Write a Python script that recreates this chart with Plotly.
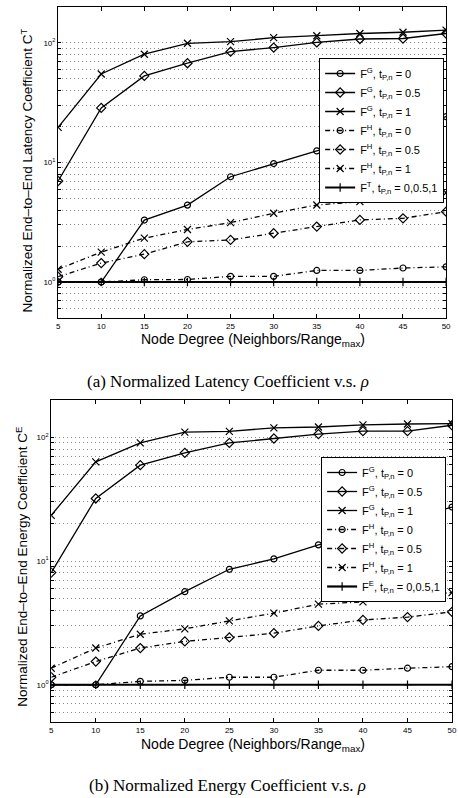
import plotly.graph_objects as go

# Node degree (neighbors per maximum range)
node_degree = [5, 10, 15, 20, 25, 30, 35, 40, 45, 50]

# (a) Normalized end-to-end latency coefficient C^T
lat_fg_t0 = [1.0, 1.0, 3.3, 4.4, 7.6, 9.8, 12.5, 15.5, 19.0, 24.2]
lat_fg_t05 = [7.0, 28.6, 53.0, 67.7, 84.5, 91.6, 101.0, 108.0, 109.0, 120.0]
lat_fg_t1 = [19.7, 55.0, 80.5, 99.4, 102.6, 110.8, 115.0, 120.0, 123.0, 128.0]
lat_fh_t0 = [1.0, 1.0, 1.045, 1.05, 1.115, 1.115, 1.25, 1.25, 1.31, 1.34]
lat_fh_t05 = [1.107, 1.44, 1.71, 2.17, 2.25, 2.56, 2.91, 3.31, 3.41, 3.88]
lat_fh_t1 = [1.28, 1.78, 2.33, 2.75, 3.14, 3.76, 4.41, 4.70, 5.35, 5.59]
lat_ft = [1.0] * 10

# (b) Normalized end-to-end energy coefficient C^E
en_fg_t0 = [1.0, 1.0, 3.6, 5.65, 8.57, 10.4, 13.5, 17.0, 21.5, 27.3]
en_fg_t05 = [8.06, 32.0, 59.5, 74.8, 90.0, 97.7, 106.0, 112.0, 112.0, 125.0]
en_fg_t1 = [23.4, 63.3, 90.0, 110.0, 111.7, 119.0, 121.0, 126.0, 128.0, 129.0]
en_fh_t0 = [1.0, 1.0, 1.065, 1.085, 1.15, 1.15, 1.31, 1.31, 1.36, 1.40]
en_fh_t05 = [1.15, 1.54, 1.98, 2.24, 2.41, 2.61, 2.99, 3.34, 3.52, 3.88]
en_fh_t1 = [1.36, 1.98, 2.56, 2.83, 3.28, 3.79, 4.48, 4.67, 5.22, 5.56]
en_fe = [1.0] * 10

x_ticks = [5, 10, 15, 20, 25, 30, 35, 40, 45, 50]
y_decades = [1, 10, 100]
y_decade_labels = ["10<sup>0</sup>", "10<sup>1</sup>", "10<sup>2</sup>"]

W, H = 458, 798
SANS = "Liberation Sans, Arial, Helvetica, sans-serif"
SERIF = "Liberation Serif, Times New Roman, serif"
DASHDOT = "5px,3px,1px,3px"

fig = go.Figure()


def add_series(ys, name, symbol, dash, xa, ya, legend, width=1.3, msize=6):
    fig.add_trace(go.Scatter(
        x=node_degree, y=ys, name=name, mode="lines+markers",
        line=dict(color="black", width=width, dash=dash),
        marker=dict(symbol=symbol, size=msize, color="black",
                    line=dict(color="black", width=1.2)),
        xaxis=xa, yaxis=ya, legend=legend,
    ))


def legend_name(sup, val):
    return f"F<sup>{sup}</sup>, t<sub>P,n</sub> = {val}"


panels = [
    ("x", "y", "legend",
     [lat_fg_t0, lat_fg_t05, lat_fg_t1, lat_fh_t0, lat_fh_t05, lat_fh_t1, lat_ft], "T"),
    ("x2", "y2", "legend2",
     [en_fg_t0, en_fg_t05, en_fg_t1, en_fh_t0, en_fh_t05, en_fh_t1, en_fe], "E"),
]

for xa, ya, leg, series, last_sup in panels:
    g0, g05, g1, h0, h05, h1, base = series
    add_series(g0, legend_name("G", "0"), "circle-open", "solid", xa, ya, leg)
    add_series(g05, legend_name("G", "0.5"), "diamond-open", "solid", xa, ya, leg, msize=7)
    add_series(g1, legend_name("G", "1"), "x-thin-open", "solid", xa, ya, leg, msize=7)
    add_series(h0, legend_name("H", "0"), "circle-open", DASHDOT, xa, ya, leg)
    add_series(h05, legend_name("H", "0.5"), "diamond-open", DASHDOT, xa, ya, leg, msize=7)
    add_series(h1, legend_name("H", "1"), "x-thin-open", DASHDOT, xa, ya, leg, msize=7)
    add_series(base, legend_name(last_sup, "0,0.5,1"), "cross-thin-open", "solid",
               xa, ya, leg, width=2.2, msize=6)

# log-scale tick positions: every integer multiple inside each decade
y_tickvals, y_ticktext = [], []
for dec in [0.1, 1, 10, 100]:
    for m in range(1, 10):
        v = round(m * dec, 6)
        if 0.5 <= v <= 200:
            y_tickvals.append(v)
            y_ticktext.append(y_decade_labels[y_decades.index(v)] if v in y_decades else "")

common_x = dict(
    range=[5, 50], tickvals=x_ticks, ticktext=[str(v) for v in x_ticks],
    showline=True, linecolor="black", linewidth=1.2, mirror="ticks",
    ticks="inside", ticklen=4, tickwidth=1, tickcolor="black",
    showgrid=False, zeroline=False,
    tickfont=dict(family=SANS, size=8, color="black"),
)
common_y = dict(
    type="log", range=[-0.30103, 2.30103],
    tickvals=y_tickvals, ticktext=y_ticktext,
    showline=True, linecolor="black", linewidth=1.2, mirror="ticks",
    ticks="inside", ticklen=3, tickwidth=1, tickcolor="black",
    showgrid=True, gridcolor="#8a8a8a", griddash="1px,3px", gridwidth=1,
    zeroline=False,
    tickfont=dict(family=SANS, size=8, color="black"),
)


def px_x(p):
    return p / W


def px_y(p):
    return 1 - p / H


legend_style = dict(
    bgcolor="white", bordercolor="black", borderwidth=1,
    font=dict(family=SANS, size=11, color="black"),
    tracegroupgap=0, itemwidth=30,
)

fig.update_layout(
    width=W, height=H,
    margin=dict(l=0, r=0, t=0, b=0),
    paper_bgcolor="white", plot_bgcolor="white",
    xaxis=dict(domain=[px_x(57), px_x(451)], anchor="y", **common_x),
    yaxis=dict(domain=[px_y(318), px_y(7)], anchor="x", **common_y),
    xaxis2=dict(domain=[px_x(50), px_x(457)], anchor="y2", **common_x),
    yaxis2=dict(domain=[px_y(722), px_y(400)], anchor="x2", **common_y),
    legend=dict(x=px_x(449), xanchor="right", y=px_y(58), yanchor="top", **legend_style),
    legend2=dict(x=px_x(451), xanchor="right", y=px_y(457), yanchor="top", **legend_style),
    showlegend=True,
)

annots = [
    # axis titles
    dict(text="Node Degree (Neighbors/Range<sub>max</sub>)", x=px_x(255), y=px_y(340),
         font=dict(family=SANS, size=14, color="black")),
    dict(text="Node Degree (Neighbors/Range<sub>max</sub>)", x=px_x(255), y=px_y(745),
         font=dict(family=SANS, size=14, color="black")),
    dict(text="Normalized End\u2013to\u2013End Latency Coefficient C<sup>T</sup>",
         x=px_x(25), y=px_y(171), textangle=-90,
         font=dict(family=SANS, size=13.5, color="black")),
    dict(text="Normalized End\u2013to\u2013End Energy Coefficient C<sup>E</sup>",
         x=px_x(20), y=px_y(567), textangle=-90,
         font=dict(family=SANS, size=13.5, color="black")),
    # captions
    dict(text="(a) Normalized Latency Coefficient v.s. <i>\u03c1</i>", x=px_x(229), y=px_y(381),
         font=dict(family=SERIF, size=17, color="black")),
    dict(text="(b) Normalized Energy Coefficient v.s. <i>\u03c1</i>", x=px_x(229), y=px_y(785),
         font=dict(family=SERIF, size=17, color="black")),
]
for a in annots:
    fig.add_annotation(xref="paper", yref="paper", showarrow=False,
                       xanchor="center", yanchor="middle", **a)

fig.write_html("out.html")
